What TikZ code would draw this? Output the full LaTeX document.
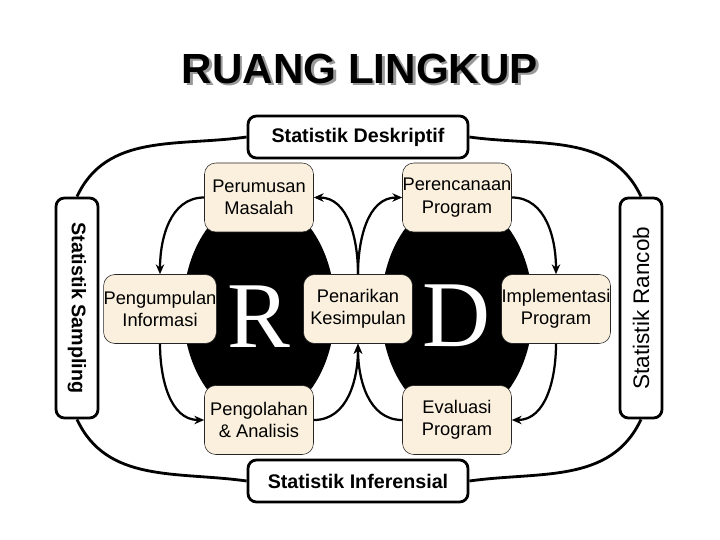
\documentclass[tikz,border=0pt]{standalone}
\usepackage{fontspec}
\setmainfont{Liberation Sans}
\newfontfamily\serifletter{Liberation Serif}
\usetikzlibrary{arrows.meta}

\definecolor{parchment}{RGB}{250,240,221}

\begin{document}
\begin{tikzpicture}[
    stage/.style    = {rectangle, draw=black!85, fill=parchment, rounded corners=8pt,
                       minimum width=2.725cm, minimum height=1.725cm, inner xsep=0pt,
                       align=center, font=\fontsize{13}{16}\selectfont},
    scopebox/.style = {rectangle, draw, line width=2pt, fill=white, rounded corners=6pt,
                       minimum width=5.5cm, minimum height=1.05cm,
                       font=\fontsize{14}{16}\selectfont\bfseries},
    link/.style     = {line width=2pt},
    flow/.style     = {-{Stealth[length=7pt,width=6pt]}, line width=1.6pt},
    letter/.style   = {text=white, anchor=base, font=\serifletter\fontsize{67}{67}\selectfont}
]
\path[use as bounding box] (0,0) rectangle (18,13.5);

% title, with its grey shadow
\node[font=\fontsize{30}{32}\selectfont\bfseries] (title) at (9.0,11.75)
  {\makebox[0pt][l]{\raisebox{-1.7pt}{\hspace{1.7pt}\textcolor{black!40}{RUANG LINGKUP}}}RUANG LINGKUP};

% R and D
\fill (6.475,5.775) ellipse [x radius=1.9cm, y radius=2.75cm];
\fill (11.425,5.775) ellipse [x radius=1.9cm, y radius=2.75cm];
\node[letter] (R) at (6.475,4.8) {R};
\node[letter] (D) at (11.425,4.83) {D};

% stages
\node[stage] (perum)  at (6.475,8.5625)  {Perumusan\\Masalah};
\node[stage] (peren)  at (11.425,8.5625) {Perencanaan\\Program};
\node[stage] (pengum) at (4.0,5.775)     {Pengumpulan\\Informasi};
\node[stage] (penar)  at (8.95,5.775)    {Penarikan\\Kesimpulan};
\node[stage] (implem) at (13.9,5.775)    {Implementasi\\Program};
\node[stage] (pengol) at (6.475,3.0)     {Pengolahan\\\& Analisis};
\node[stage] (eval)   at (11.425,3.0)    {Evaluasi\\Program};

\draw[flow] (perum.west)  to[out=180, in=90]  (pengum.north);
\draw[flow] (pengum.south) to[out=-90, in=180] (pengol.west);
\draw[flow] (pengol.east) to[out=0, in=-90]   (penar.south);
\draw[flow] (penar.north) to[out=90, in=0]    (perum.east);
\draw[flow] (penar.north) to[out=90, in=180]  (peren.west);
\draw[flow] (peren.east)  to[out=0, in=90]    (implem.north);
\draw[flow] (implem.south) to[out=-90, in=0]  (eval.east);
\draw[flow] (eval.west)   to[out=180, in=-90] (penar.south);

% statistik boxes
\node[scopebox] (desk)  at (8.95,10.075) {Statistik Deskriptif};
\node[scopebox] (infer) at (8.95,1.475)  {Statistik Inferensial};
\node[scopebox, rotate=-90] (samp) at (1.925,5.8) {Statistik Sampling};
\node[scopebox, rotate=90, font=\fontsize{16}{18}\selectfont] (ranc) at (16.025,5.8) {Statistik Rancob};

\draw[link] (desk.west)  to[out=188, in=65]   (samp.west);
\draw[link] (infer.west) to[out=172, in=-65]  (samp.east);
\draw[link] (desk.east)  to[out=-8, in=115]   (ranc.east);
\draw[link] (infer.east) to[out=8, in=-115]   (ranc.west);
\end{tikzpicture}
\end{document}
